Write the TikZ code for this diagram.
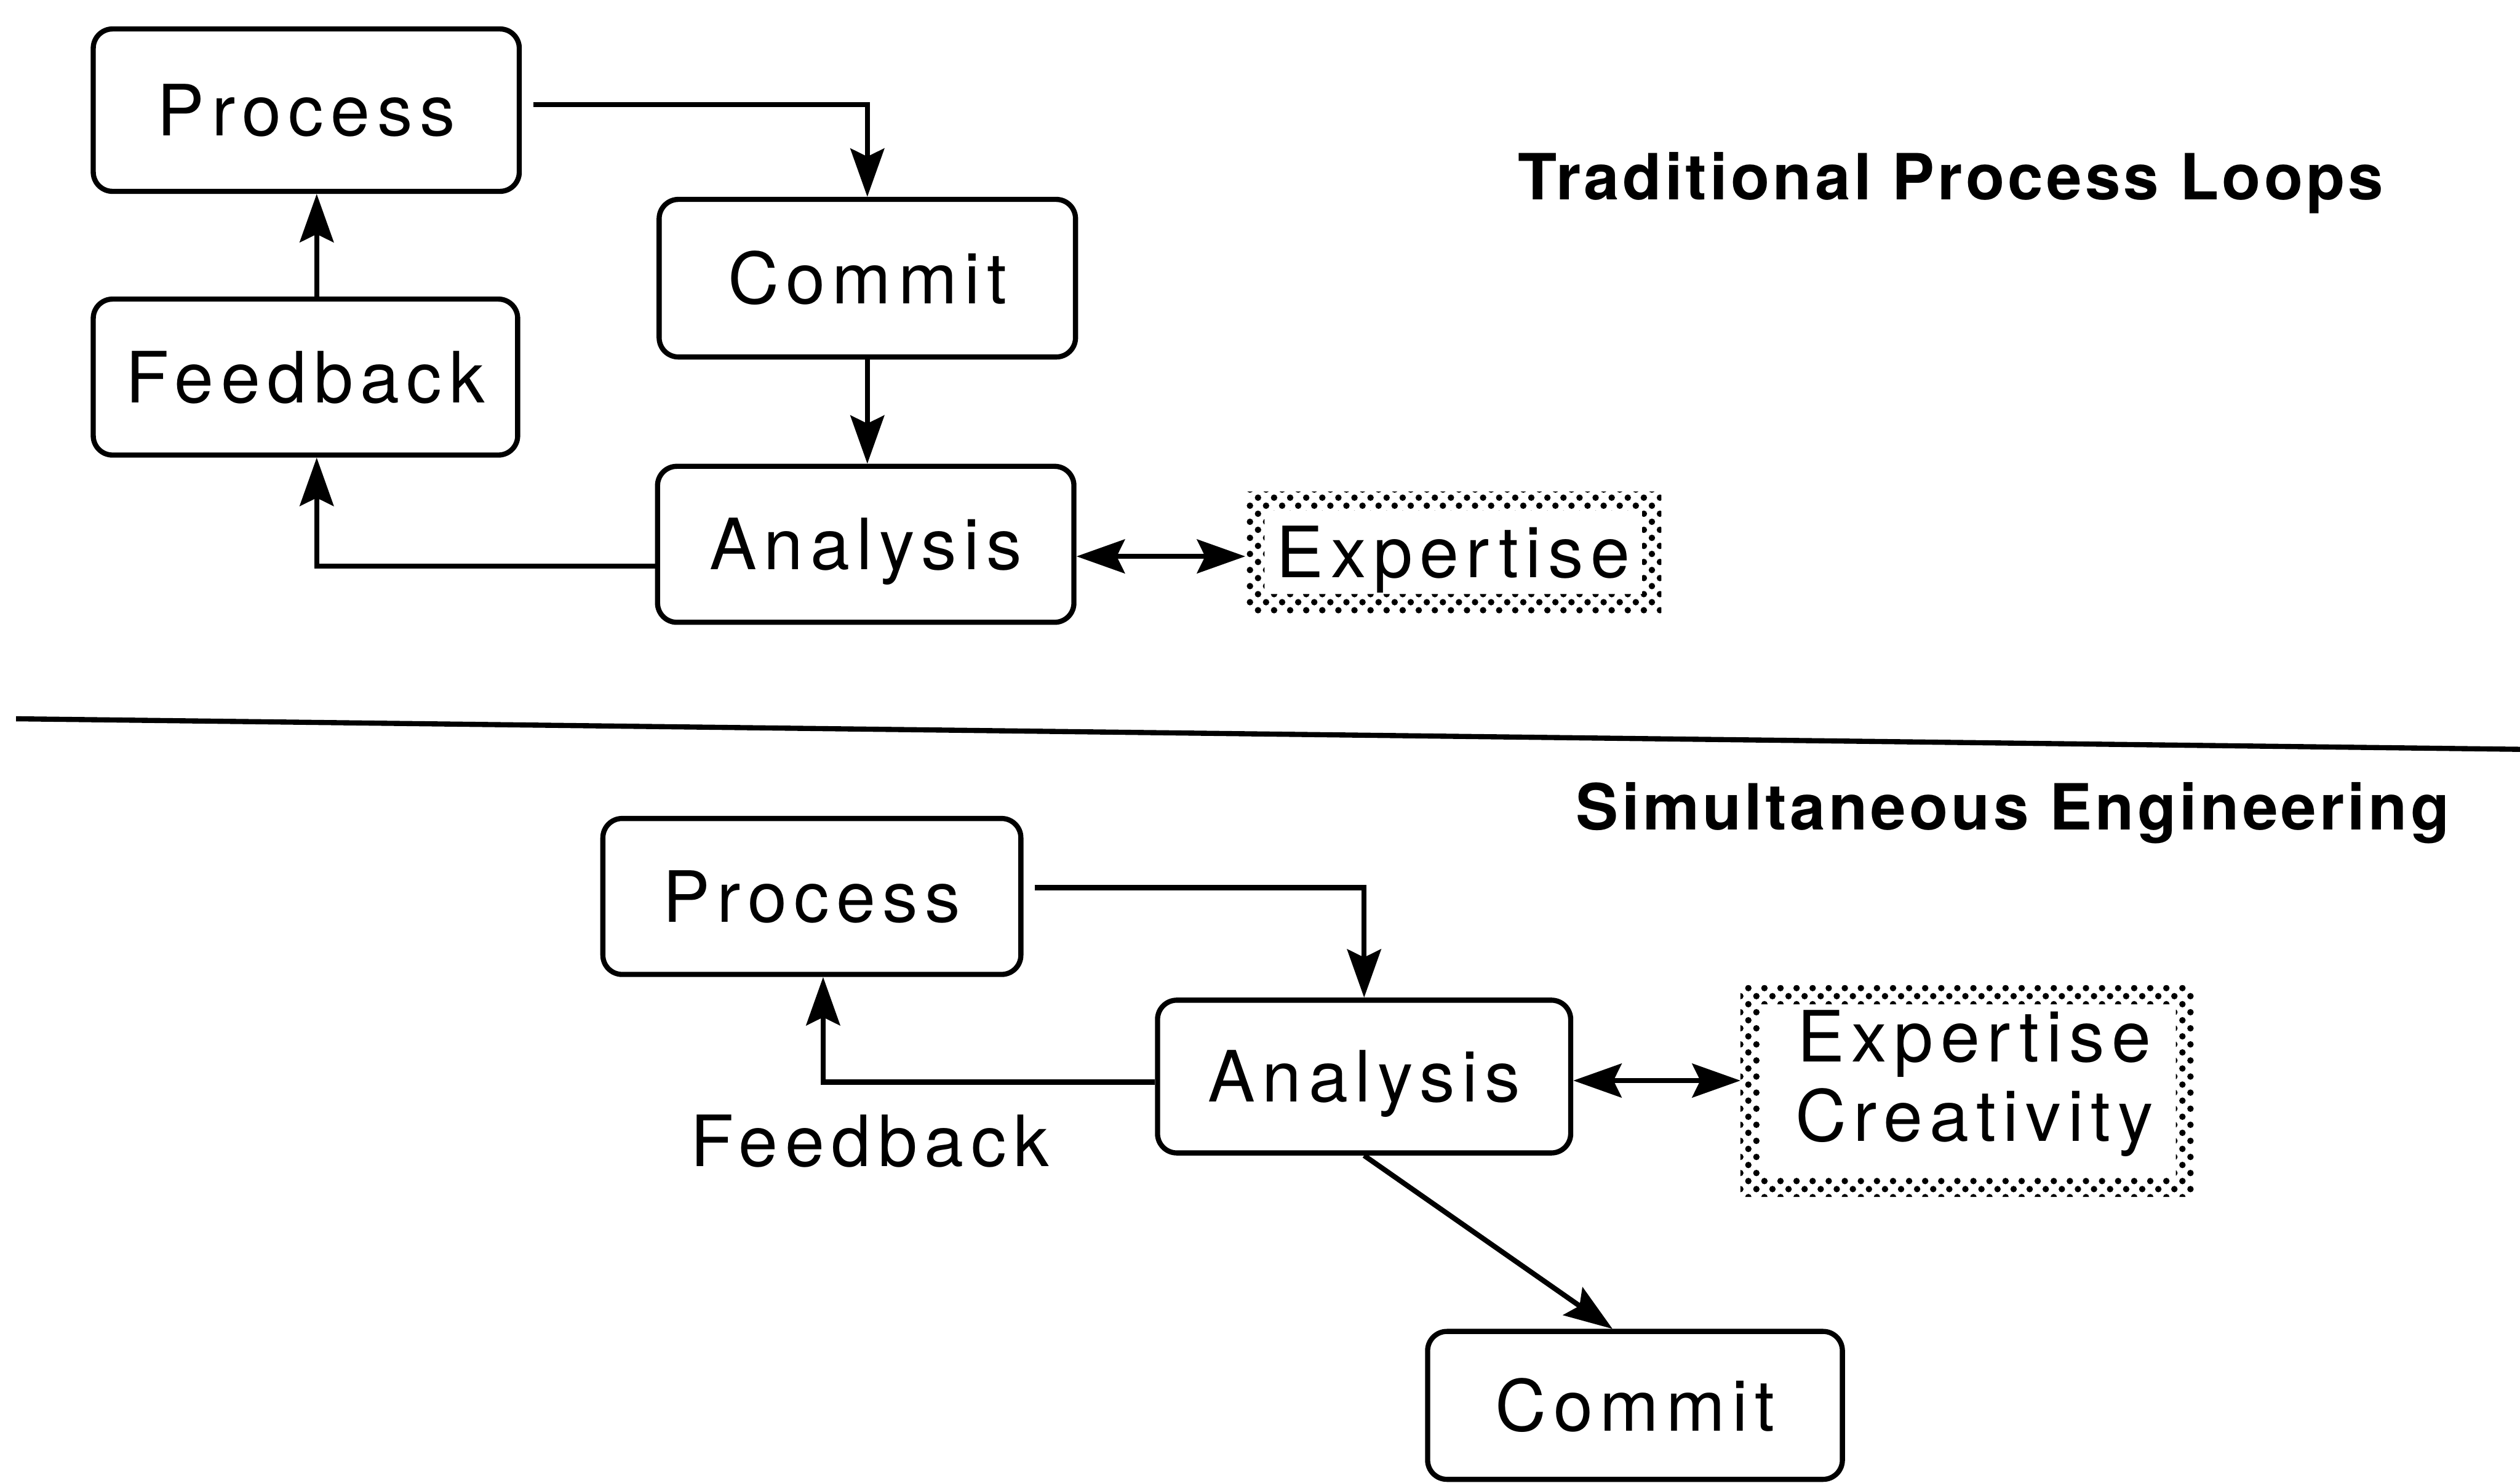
\documentclass[tikz,border=0pt]{standalone}
\usepackage{fontspec}
\setmainfont{TeX Gyre Heros}
\newfontfamily\labelfont[LetterSpace=10]{TeX Gyre Heros}
\newfontfamily\headfont[LetterSpace=5]{TeX Gyre Heros}
\usetikzlibrary{arrows.meta,patterns}

% checkerboard of dots used for the screened frames
\pgfdeclarepatternformonly{halftone}{\pgfpoint{-1pt}{-1pt}}{\pgfpoint{6pt}{6pt}}{\pgfpoint{5pt}{5pt}}{%
  \pgfpathcircle{\pgfpoint{1.25pt}{1.25pt}}{1pt}%
  \pgfpathcircle{\pgfpoint{3.75pt}{3.75pt}}{1pt}%
  \pgfusepath{fill}}

\tikzset{
  labeltext/.style={font=\labelfont\fontsize{22}{24.6}\selectfont, inner sep=0pt},
  stagebox/.style={labeltext, draw, line width=1.6pt, rounded corners=6pt,
    text height=15.8pt, text depth=0pt},
  screenbox/.style={labeltext, text height=15.8pt, text depth=0pt},
  heading/.style={font=\headfont\bfseries\fontsize{19.8}{22}\selectfont, inner sep=0pt, anchor=base west},
  tip/.tip={Stealth[length=15pt,width=10.5pt,inset=2.5pt]},
  link/.style={line width=1.6pt, -tip},
  twoway/.style={line width=1.6pt, tip-tip},
}

\begin{document}
\begin{tikzpicture}[x=0.5pt,y=-0.5pt]
  \fill[white] (0,0) rectangle (1567.5,922);
  \useasboundingbox (0,0) rectangle (1567.5,922);

  % ---------- traditional loop ----------
  \node[stagebox, minimum width=132.5pt, minimum height=50.5pt] (p1) at (190.5,68.5) {Process};
  \node[stagebox, minimum width=132pt, minimum height=48.5pt] (f1) at (190,234.5) {Feedback};
  \node[stagebox, minimum width=129.5pt, minimum height=49pt] (c1) at (539.5,173) {Commit};
  \node[stagebox, minimum width=129.5pt, minimum height=48.5pt] (a1) at (538.5,338.5) {Analysis};
  \node[screenbox, minimum width=129pt, minimum height=37.5pt] (e1) at (904,343.5) {Expertise};
  \fill[pattern=halftone, even odd rule]
    (e1.north west) rectangle (e1.south east)
    ([shift={(6pt,-6pt)}]e1.north west) rectangle ([shift={(-6pt,6pt)}]e1.south east);

  \node[heading] (t1) at (944,124) {Traditional Process Loops};

  \draw[link] ([xshift=3.5pt,yshift=1.75pt]p1.east) -| (c1.north);
  \draw[link] (c1.south) -- (c1.south |- a1.north);
  \draw[link] ([yshift=-6.75pt]a1.west) -| ([xshift=3.5pt]f1.south);
  \draw[link] ([xshift=3.5pt]f1.north) -- ([xshift=3.5pt]f1.north |- p1.south);
  \draw[twoway] ([yshift=-1.25pt]a1.east |- e1.west) -- ([yshift=-1.25pt]e1.west);

  % ---------- divider ----------
  \draw[line width=1.6pt] (10,447) -- (1567.5,466);

  % ---------- simultaneous engineering ----------
  \node[heading] (t2) at (980,516) {Simultaneous Engineering};

  \node[stagebox, minimum width=130pt, minimum height=48.5pt] (p2) at (505,557.5) {Process};
  \node[stagebox, minimum width=128.5pt, minimum height=47.5pt] (a2) at (848.5,669.5) {Analysis};
  \node[stagebox, minimum width=129pt, minimum height=46pt] (c2) at (1017,874) {Commit};
  \node[minimum width=141pt, minimum height=65.5pt, inner sep=0pt] (e2) at (1224,678.5) {};
  \fill[pattern=halftone, even odd rule]
    (e2.north west) rectangle (e2.south east)
    ([shift={(6pt,-6pt)}]e2.north west) rectangle ([shift={(-6pt,6pt)}]e2.south east);
  \node[labeltext, anchor=base] (e2a) at (1228,660.5) {Expertise};
  \node[labeltext, anchor=base] (e2b) at (1228,709.7) {Creativity};

  \node[labeltext, anchor=base west] (fb) at (429,725.5) {Feedback};

  \draw[link] ([xshift=3.5pt,yshift=2.75pt]p2.east) -| (a2.north);
  \draw[link] ([yshift=-1.75pt]a2.west) -| ([xshift=3.5pt]p2.south);
  \draw[twoway] ([yshift=-1.25pt]a2.east) -- ([yshift=-1.25pt]a2.east -| e2.west);
  \draw[link] (a2.south) -- ([xshift=-7pt]c2.north);
\end{tikzpicture}
\end{document}
